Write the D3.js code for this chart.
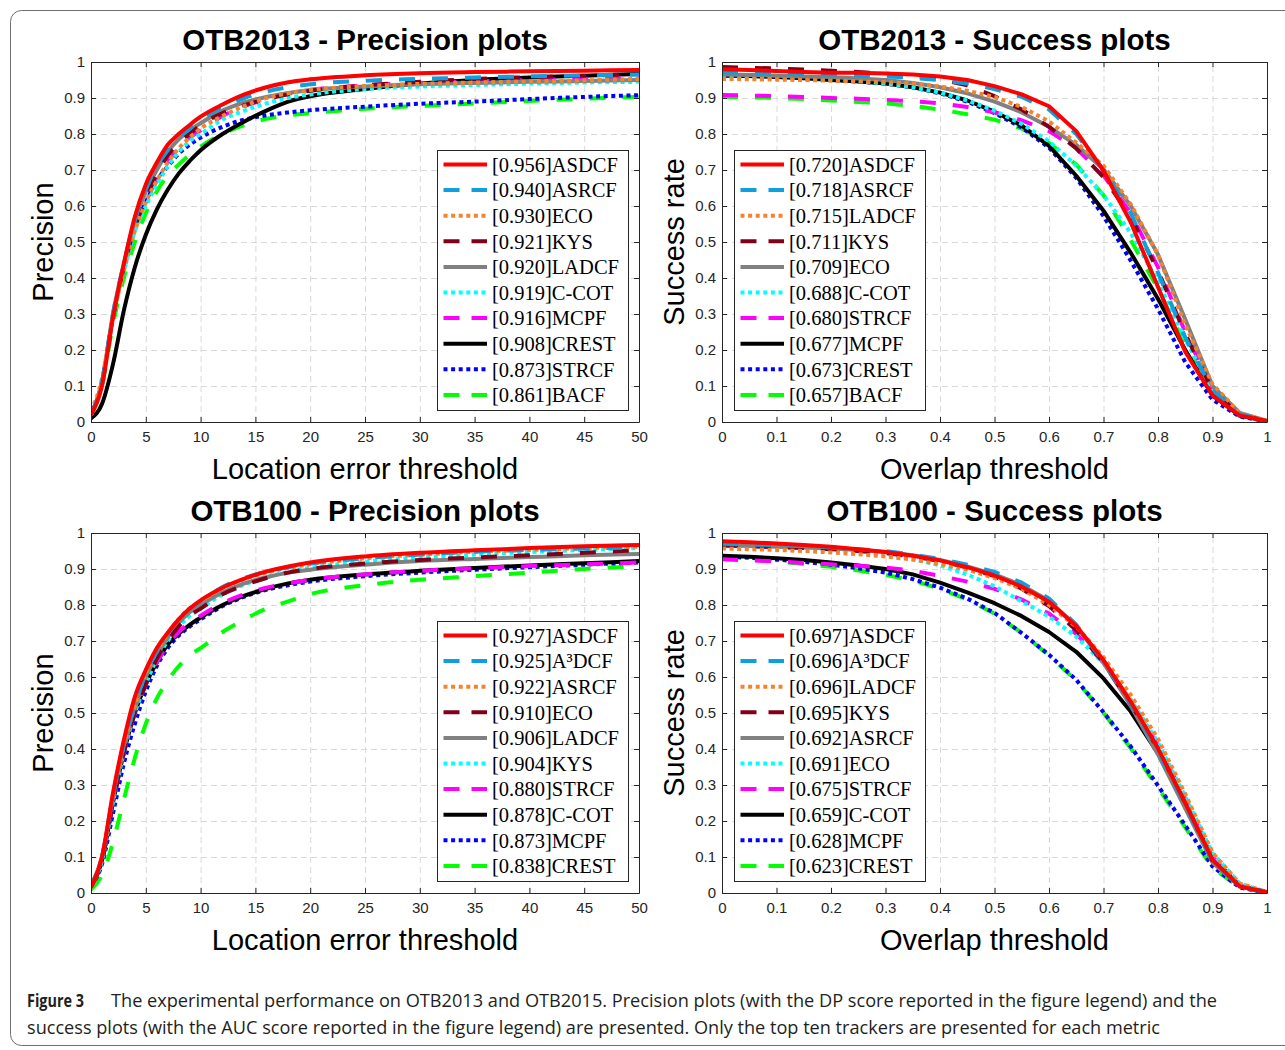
<!DOCTYPE html>
<html><head><meta charset="utf-8">
<script src="https://cdn.jsdelivr.net/npm/d3@7"></script>
<style>body{margin:0;background:#fff}svg{display:block}</style>
</head><body>
<script>
// ---------- data ----------
const precThresholds = [0,1,2,3,4,5,6,7,8,9,10,12,14,16,18,20,25,30,35,40,45,50];
const succThresholds = [0,0.05,0.1,0.15,0.2,0.25,0.3,0.35,0.4,0.45,0.5,0.55,0.6,0.65,0.7,0.75,0.8,0.85,0.9,0.95,1];
const precTickValues = [0,5,10,15,20,25,30,35,40,45,50];
const succTickValues = [0,0.1,0.2,0.3,0.4,0.5,0.6,0.7,0.8,0.9,1];
const yTickValues = [0,0.1,0.2,0.3,0.4,0.5,0.6,0.7,0.8,0.9,1];

const otb13PrecNames  = ["ASDCF","ASRCF","ECO","KYS","LADCF","C-COT","MCPF","CREST","STRCF","BACF"];
const otb13PrecScores = ["0.956","0.940","0.930","0.921","0.920","0.919","0.916","0.908","0.873","0.861"];
const otb13PrecValues = [
  [0.02,0.10,0.29,0.44,0.57,0.66,0.72,0.77,0.80,0.825,0.848,0.882,0.91,0.93,0.944,0.952,0.963,0.969,0.972,0.974,0.976,0.978],
  [0.02,0.11,0.30,0.44,0.56,0.645,0.71,0.755,0.79,0.815,0.84,0.875,0.90,0.918,0.93,0.938,0.948,0.953,0.957,0.96,0.963,0.965],
  [0.03,0.12,0.29,0.42,0.53,0.61,0.67,0.72,0.76,0.79,0.815,0.85,0.878,0.90,0.913,0.922,0.933,0.939,0.943,0.946,0.949,0.953],
  [0.02,0.11,0.29,0.43,0.54,0.62,0.69,0.74,0.775,0.80,0.825,0.858,0.88,0.897,0.91,0.92,0.935,0.945,0.953,0.958,0.962,0.966],
  [0.02,0.11,0.30,0.44,0.56,0.64,0.70,0.75,0.785,0.81,0.83,0.865,0.888,0.903,0.914,0.922,0.932,0.938,0.942,0.945,0.947,0.95],
  [0.02,0.11,0.29,0.42,0.53,0.60,0.66,0.71,0.75,0.78,0.80,0.84,0.865,0.885,0.90,0.91,0.925,0.932,0.936,0.94,0.943,0.945],
  [0.02,0.11,0.29,0.43,0.54,0.62,0.68,0.725,0.76,0.79,0.81,0.85,0.877,0.897,0.912,0.922,0.935,0.942,0.946,0.95,0.953,0.956],
  [0.01,0.05,0.16,0.31,0.43,0.52,0.59,0.645,0.69,0.725,0.755,0.80,0.835,0.865,0.89,0.905,0.925,0.94,0.95,0.957,0.962,0.967],
  [0.02,0.11,0.29,0.43,0.54,0.61,0.67,0.71,0.745,0.77,0.79,0.82,0.84,0.852,0.86,0.866,0.876,0.884,0.89,0.897,0.903,0.908],
  [0.02,0.10,0.27,0.40,0.50,0.58,0.64,0.685,0.715,0.742,0.765,0.80,0.825,0.842,0.852,0.858,0.87,0.878,0.885,0.892,0.898,0.903]
];

const otb13SuccNames  = ["ASDCF","ASRCF","LADCF","KYS","ECO","C-COT","STRCF","MCPF","CREST","BACF"];
const otb13SuccScores = ["0.720","0.718","0.715","0.711","0.709","0.688","0.680","0.677","0.673","0.657"];
const otb13SuccValues = [
  [0.980,0.978,0.975,0.972,0.970,0.970,0.968,0.965,0.960,0.950,0.933,0.910,0.877,0.808,0.698,0.555,0.375,0.195,0.074,0.018,0.003],
  [0.972,0.970,0.968,0.966,0.965,0.963,0.960,0.956,0.950,0.940,0.925,0.903,0.868,0.800,0.700,0.580,0.415,0.235,0.088,0.022,0.003],
  [0.953,0.952,0.951,0.950,0.948,0.946,0.944,0.940,0.932,0.920,0.903,0.875,0.835,0.776,0.712,0.605,0.465,0.270,0.105,0.025,0.003],
  [0.986,0.984,0.982,0.979,0.976,0.972,0.968,0.962,0.952,0.935,0.905,0.868,0.820,0.760,0.680,0.570,0.420,0.245,0.088,0.020,0.002],
  [0.965,0.964,0.962,0.960,0.958,0.954,0.950,0.942,0.930,0.913,0.890,0.860,0.820,0.770,0.702,0.600,0.465,0.285,0.100,0.025,0.003],
  [0.960,0.959,0.957,0.955,0.952,0.947,0.940,0.930,0.915,0.893,0.865,0.828,0.780,0.712,0.630,0.525,0.390,0.230,0.085,0.020,0.002],
  [0.908,0.907,0.905,0.903,0.900,0.898,0.895,0.891,0.885,0.875,0.860,0.838,0.808,0.760,0.685,0.580,0.430,0.250,0.090,0.020,0.002],
  [0.962,0.961,0.958,0.955,0.950,0.946,0.940,0.930,0.915,0.893,0.862,0.823,0.767,0.684,0.587,0.470,0.342,0.200,0.074,0.018,0.002],
  [0.963,0.962,0.959,0.955,0.950,0.946,0.940,0.930,0.913,0.890,0.858,0.818,0.762,0.678,0.572,0.448,0.314,0.166,0.062,0.015,0.002],
  [0.903,0.902,0.900,0.897,0.893,0.889,0.885,0.878,0.868,0.855,0.840,0.815,0.775,0.715,0.630,0.505,0.370,0.215,0.080,0.018,0.002]
];

const otb100PrecNames  = ["ASDCF","A³DCF","ASRCF","ECO","LADCF","KYS","STRCF","C-COT","MCPF","CREST"];
const otb100PrecScores = ["0.927","0.925","0.922","0.910","0.906","0.904","0.880","0.878","0.873","0.838"];
const otb100PrecValues = [
  [0.015,0.10,0.277,0.425,0.545,0.62,0.68,0.723,0.76,0.79,0.813,0.848,0.873,0.893,0.907,0.918,0.935,0.945,0.952,0.958,0.963,0.967],
  [0.02,0.10,0.27,0.41,0.52,0.61,0.67,0.72,0.76,0.79,0.81,0.85,0.875,0.893,0.905,0.915,0.93,0.94,0.948,0.953,0.957,0.96],
  [0.02,0.10,0.27,0.41,0.52,0.61,0.67,0.72,0.76,0.79,0.81,0.847,0.872,0.89,0.903,0.913,0.93,0.94,0.948,0.953,0.958,0.962],
  [0.02,0.09,0.25,0.39,0.50,0.58,0.65,0.70,0.74,0.77,0.79,0.83,0.855,0.875,0.89,0.90,0.915,0.925,0.932,0.938,0.945,0.952],
  [0.02,0.10,0.26,0.40,0.51,0.60,0.66,0.71,0.75,0.78,0.80,0.835,0.86,0.877,0.89,0.898,0.912,0.922,0.928,0.933,0.938,0.942],
  [0.02,0.09,0.25,0.39,0.50,0.58,0.65,0.70,0.74,0.77,0.79,0.83,0.857,0.877,0.892,0.903,0.92,0.932,0.94,0.947,0.953,0.958],
  [0.02,0.09,0.25,0.39,0.50,0.58,0.64,0.69,0.725,0.75,0.77,0.805,0.83,0.848,0.86,0.87,0.885,0.895,0.902,0.908,0.913,0.918],
  [0.02,0.09,0.25,0.39,0.50,0.58,0.64,0.69,0.72,0.745,0.765,0.80,0.826,0.845,0.86,0.87,0.885,0.895,0.903,0.91,0.916,0.922],
  [0.02,0.08,0.22,0.36,0.47,0.56,0.63,0.68,0.715,0.74,0.76,0.797,0.823,0.842,0.855,0.865,0.88,0.89,0.898,0.905,0.912,0.918],
  [0.01,0.05,0.14,0.26,0.375,0.47,0.54,0.59,0.63,0.66,0.68,0.725,0.76,0.79,0.81,0.83,0.855,0.87,0.88,0.89,0.90,0.908]
];

const otb100SuccNames  = ["ASDCF","A³DCF","LADCF","KYS","ASRCF","ECO","STRCF","C-COT","MCPF","CREST"];
const otb100SuccScores = ["0.697","0.696","0.696","0.695","0.692","0.691","0.675","0.659","0.628","0.623"];
const otb100SuccValues = [
  [0.977,0.974,0.971,0.967,0.962,0.955,0.947,0.937,0.924,0.905,0.882,0.851,0.809,0.742,0.647,0.531,0.402,0.250,0.092,0.018,0.002],
  [0.970,0.968,0.966,0.963,0.960,0.955,0.950,0.940,0.928,0.912,0.892,0.862,0.818,0.745,0.642,0.525,0.395,0.243,0.088,0.018,0.002],
  [0.957,0.955,0.953,0.950,0.946,0.941,0.935,0.926,0.914,0.898,0.875,0.845,0.800,0.740,0.655,0.550,0.428,0.275,0.112,0.026,0.003],
  [0.965,0.963,0.961,0.958,0.955,0.950,0.944,0.935,0.922,0.904,0.880,0.845,0.797,0.730,0.640,0.525,0.400,0.250,0.090,0.020,0.002],
  [0.966,0.964,0.962,0.960,0.957,0.953,0.947,0.938,0.925,0.907,0.885,0.855,0.812,0.742,0.640,0.520,0.385,0.235,0.085,0.018,0.002],
  [0.965,0.963,0.961,0.958,0.954,0.948,0.940,0.928,0.910,0.885,0.852,0.810,0.768,0.712,0.638,0.537,0.418,0.268,0.111,0.026,0.003],
  [0.927,0.924,0.921,0.917,0.913,0.909,0.904,0.895,0.881,0.865,0.845,0.815,0.776,0.720,0.640,0.530,0.410,0.262,0.100,0.020,0.002],
  [0.937,0.934,0.930,0.925,0.918,0.910,0.900,0.885,0.862,0.835,0.805,0.769,0.725,0.670,0.596,0.504,0.388,0.250,0.098,0.020,0.002],
  [0.935,0.931,0.926,0.920,0.912,0.902,0.890,0.872,0.848,0.818,0.778,0.722,0.662,0.592,0.502,0.407,0.298,0.188,0.074,0.015,0.001],
  [0.930,0.926,0.921,0.914,0.906,0.896,0.884,0.868,0.845,0.815,0.776,0.722,0.660,0.590,0.500,0.402,0.292,0.182,0.070,0.015,0.001]
];

const lineColors = ["#ff0000","#0f9fdf","#f5822f","#80001a","#808080","#00ffff","#ff00ff","#000000","#0000ff","#00ff00"];
const lineStyles = ["solid","dashed","dotted","dashed","solid","dotted","dashed","solid","dotted","dashed"];
const titles = ["OTB2013 - Precision plots","OTB2013 - Success plots","OTB100 - Precision plots","OTB100 - Success plots"];
const captionBold = "Figure 3";
const captionLine1 = "The experimental performance on OTB2013 and OTB2015. Precision plots (with the DP score reported in the figure legend) and the";
const captionLine2 = "success plots (with the AUC score reported in the figure legend) are presented. Only the top ten trackers are presented for each metric";

// ---------- drawing ----------
const W = 1285, H = 1050;
const svg = d3.select("body").append("svg").attr("width", W).attr("height", H);
svg.append("rect").attr("width", W).attr("height", H).attr("fill", "#fff");
svg.append("rect").attr("x", 10.5).attr("y", 10.5).attr("width", 1300).attr("height", 1035)
  .attr("rx", 11).attr("fill", "none").attr("stroke", "#6e6e6e").attr("stroke-width", 1);

const dashFor = s => s === "dashed" ? "16,17" : s === "dotted" ? "4,3.6" : null;
const axisColor = "#262626";

const panels = [
  {title: titles[0], xs: precThresholds, ticks: precTickValues, xDomain: [0,50], names: otb13PrecNames, scores: otb13PrecScores, values: otb13PrecValues,
   box: [91, 62, 639, 422], xLabel: "Location error threshold", yLabel: "Precision", legendSide: "right", fmt: d => String(d)},
  {title: titles[1], xs: succThresholds, ticks: succTickValues, xDomain: [0,1], names: otb13SuccNames, scores: otb13SuccScores, values: otb13SuccValues,
   box: [722, 62, 1267, 422], xLabel: "Overlap threshold", yLabel: "Success rate", legendSide: "left", fmt: d => String(d)},
  {title: titles[2], xs: precThresholds, ticks: precTickValues, xDomain: [0,50], names: otb100PrecNames, scores: otb100PrecScores, values: otb100PrecValues,
   box: [91, 533, 639, 893], xLabel: "Location error threshold", yLabel: "Precision", legendSide: "right", fmt: d => String(d)},
  {title: titles[3], xs: succThresholds, ticks: succTickValues, xDomain: [0,1], names: otb100SuccNames, scores: otb100SuccScores, values: otb100SuccValues,
   box: [722, 533, 1267, 893], xLabel: "Overlap threshold", yLabel: "Success rate", legendSide: "left", fmt: d => String(d)}
];

panels.forEach((p, pi) => {
  const [x0, y0, x1, y1] = p.box;
  const w = x1 - x0, h = y1 - y0;
  const g = svg.append("g").attr("transform", `translate(${x0},${y0})`);
  const x = d3.scaleLinear().domain(p.xDomain).range([0, w]);
  const y = d3.scaleLinear().domain([0, 1]).range([h, 0]);

  // grid
  const gx = g.append("g").attr("transform", `translate(0,${h})`)
    .call(d3.axisBottom(x).tickValues(p.ticks).tickSize(-h).tickFormat(""));
  const gy = g.append("g").call(d3.axisLeft(y).tickValues(yTickValues).tickSize(-w).tickFormat(""));
  [gx, gy].forEach(a => {
    a.select(".domain").remove();
    a.selectAll("line").attr("stroke", "#d9d9d9").attr("stroke-width", 1).attr("stroke-dasharray", "6,4");
  });

  // curves
  const clipId = "clip" + pi;
  g.append("clipPath").attr("id", clipId).append("rect").attr("x", 0).attr("y", 0).attr("width", w).attr("height", h);
  const line = d3.line().x((d, i) => x(p.xs[i])).y(d => y(d));
  if (p.xDomain[1] === 50) line.curve(d3.curveMonotoneX);
  const cg = g.append("g").attr("clip-path", `url(#${clipId})`);
  for (let k = p.values.length - 1; k >= 0; k--) {
    cg.append("path").datum(p.values[k]).attr("d", line)
      .attr("fill", "none").attr("stroke", lineColors[k]).attr("stroke-width", 4)
      .attr("stroke-linejoin", "round")
      .attr("stroke-dasharray", dashFor(lineStyles[k]));
  }

  // axes with inward ticks
  const styleAxis = a => {
    a.select(".domain").attr("stroke", axisColor).attr("stroke-width", 1);
    a.selectAll(".tick line").attr("stroke", axisColor);
    a.selectAll("text").attr("fill", axisColor).attr("font-family", "Liberation Sans, Arial, sans-serif").attr("font-size", 15);
  };
  const ab = g.append("g").attr("transform", `translate(0,${h})`)
    .call(d3.axisBottom(x).tickValues(p.ticks).tickSizeInner(-5).tickSizeOuter(0).tickPadding(9).tickFormat(p.fmt));
  styleAxis(ab);
  const at = g.append("g").call(d3.axisTop(x).tickValues(p.ticks).tickSizeInner(-5).tickSizeOuter(0).tickFormat(""));
  styleAxis(at);
  const al = g.append("g").call(d3.axisLeft(y).tickValues(yTickValues).tickSizeInner(-5).tickSizeOuter(0).tickPadding(6).tickFormat(d => String(d)));
  styleAxis(al);
  const ar = g.append("g").attr("transform", `translate(${w},0)`)
    .call(d3.axisRight(y).tickValues(yTickValues).tickSizeInner(-5).tickSizeOuter(0).tickFormat(""));
  styleAxis(ar);

  // title & labels
  g.append("text").attr("x", w / 2).attr("y", -12).attr("text-anchor", "middle")
    .attr("font-family", "Liberation Sans, Arial, sans-serif").attr("font-weight", "bold").attr("font-size", 29.5)
    .attr("fill", "#000").text(p.title);
  g.append("text").attr("x", w / 2).attr("y", h + 57).attr("text-anchor", "middle")
    .attr("font-family", "Liberation Sans, Arial, sans-serif").attr("font-size", 29)
    .attr("fill", "#000").text(p.xLabel);
  g.append("text").attr("transform", `translate(${-38},${h / 2}) rotate(-90)`).attr("text-anchor", "middle")
    .attr("font-family", "Liberation Sans, Arial, sans-serif").attr("font-size", 29)
    .attr("fill", "#000").text(p.yLabel);

  // legend
  const lw = 191, lh = 260;
  const lx = p.legendSide === "right" ? w - 11 - lw : 12;
  const ly = h - 12 - lh;
  const lg = g.append("g").attr("transform", `translate(${lx},${ly})`);
  lg.append("rect").attr("x", 0.5).attr("y", 0.5).attr("width", lw).attr("height", lh)
    .attr("fill", "#fff").attr("stroke", axisColor).attr("stroke-width", 1);
  p.names.forEach((name, k) => {
    const cy = 14.5 + k * 25.6;
    lg.append("line").attr("x1", 6.5).attr("x2", 50).attr("y1", cy).attr("y2", cy)
      .attr("stroke", lineColors[k]).attr("stroke-width", 4)
      .attr("stroke-dasharray", lineStyles[k] === "dashed" ? "16,12" : dashFor(lineStyles[k]));
    lg.append("text").attr("x", 55).attr("y", cy).attr("dy", "0.36em")
      .attr("font-family", "Liberation Serif, Times New Roman, serif").attr("font-size", 20.5)
      .attr("fill", "#000").text(`[${p.scores[k]}]${name}`);
  });
});

// caption
const capFont = "Open Sans, Noto Sans, sans-serif";
svg.append("text").attr("x", 27).attr("y", 1007).attr("font-family", capFont).attr("font-weight", "bold")
  .attr("font-size", 18).attr("fill", "#231f20").attr("textLength", 57).attr("lengthAdjust", "spacingAndGlyphs").text(captionBold);
svg.append("text").attr("x", 111).attr("y", 1007).attr("font-family", capFont)
  .attr("font-size", 18).attr("fill", "#231f20").attr("textLength", 1106).attr("lengthAdjust", "spacingAndGlyphs").text(captionLine1);
svg.append("text").attr("x", 27).attr("y", 1034).attr("font-family", capFont)
  .attr("font-size", 18).attr("fill", "#231f20").attr("textLength", 1133).attr("lengthAdjust", "spacingAndGlyphs").text(captionLine2);
</script>
</body></html>
